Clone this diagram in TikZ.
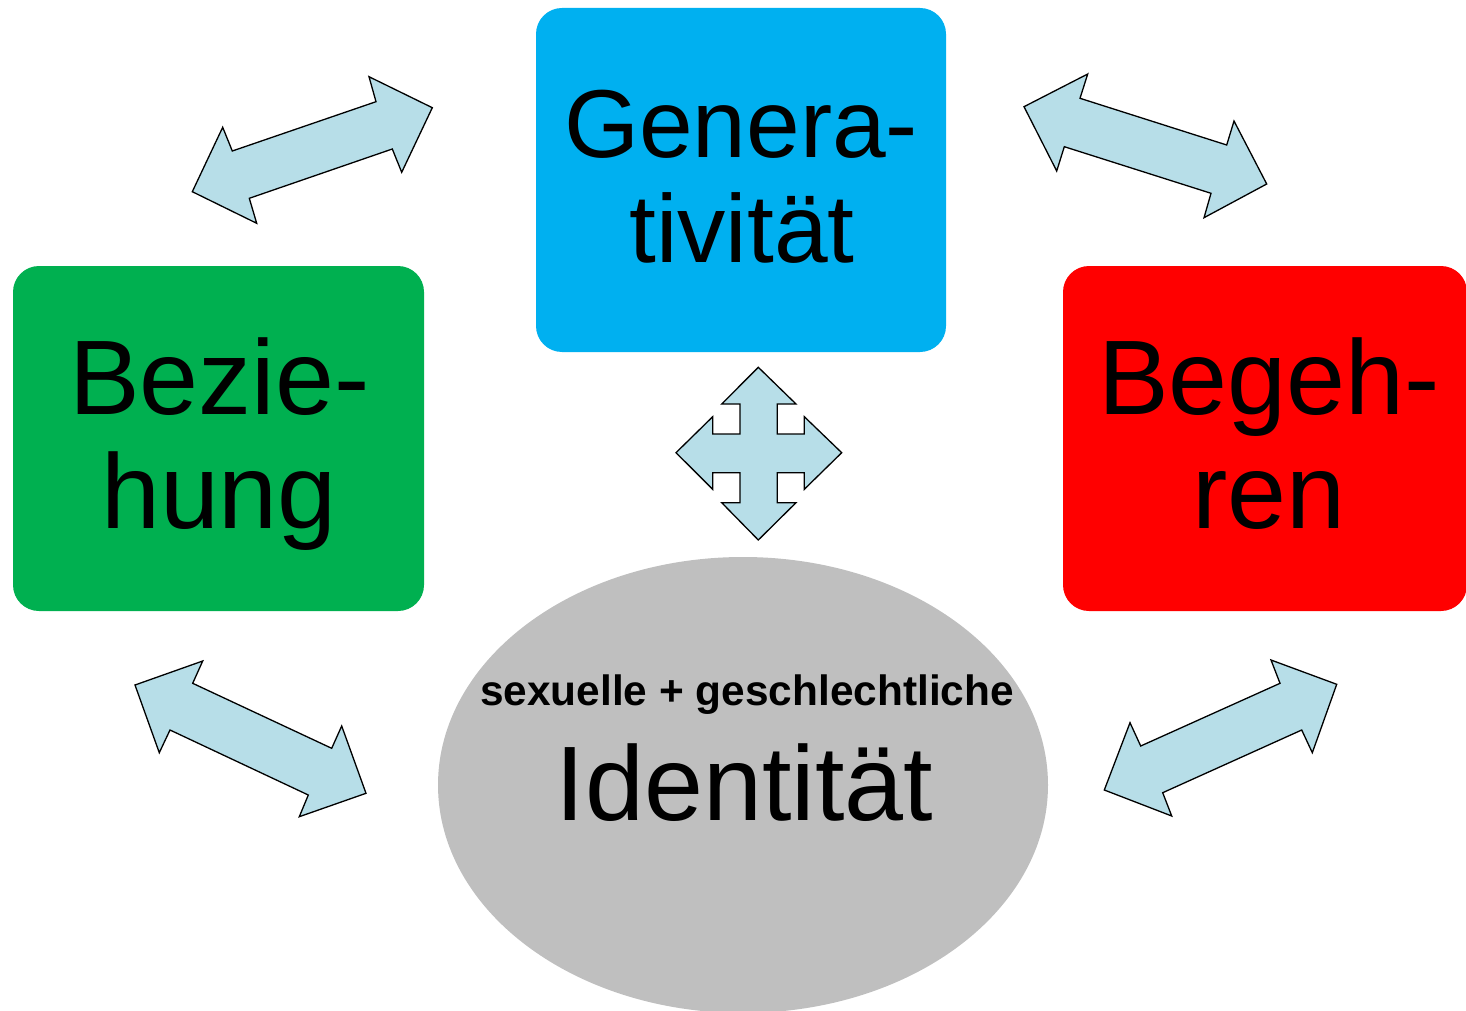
\documentclass[tikz,border=0pt]{standalone}
\usepackage{fontspec}
\setmainfont{Liberation Sans}
\definecolor{cblue}{HTML}{00B0F0}
\definecolor{cgreen}{HTML}{00B050}
\definecolor{cred}{HTML}{FF0000}
\definecolor{cgray}{HTML}{BFBFBF}
\definecolor{carrow}{HTML}{B7DEE8}
\definecolor{ctext}{HTML}{000000}
\tikzset{
  box/.style={fill=#1, draw=none, rounded corners=26pt},
  blockarrow/.style={fill=carrow, draw=black, line width=1.3pt, line join=miter},
  bigtext/.style={anchor=base, inner sep=0pt, text=ctext, font=\fontsize{106}{112}\selectfont},
  midtext/.style={anchor=base, inner sep=0pt, text=ctext, font=\fontsize{96.5}{104}\selectfont},
  smalltext/.style={anchor=base, inner sep=0pt, text=ctext, font=\bfseries\fontsize{42.4}{48}\selectfont}
}
\begin{document}
\begin{tikzpicture}[x=1pt,y=-1pt]
\useasboundingbox (0,0) rectangle (1466,1011);
\clip (0,0) rectangle (1466,1011);
% boxes
\path[box=cblue] (536,8) rectangle (946,352);
\path[box=cgreen] (13,266) rectangle (424,611);
\path[box=cred] (1063,266) rectangle (1467,611);
\path[fill=cgray] (743,785) ellipse [x radius=305, y radius=228];
% texts
\node[midtext] (gen1) at (741,158) {Genera-};
\node[midtext] (gen2) at (742,262) {tivität};
\node[bigtext] (bez1) at (219.5,414) {Bezie-};
\node[bigtext] (bez2) at (219,528) {hung};
\node[bigtext] (beg1) at (1269,414) {Begeh-};
\node[bigtext] (beg2) at (1269,528) {ren};
\node[smalltext] (sex) at (747,705) {sexuelle + geschlechtliche};
\node[bigtext] (ident) at (744.5,820) {Identität};
% arrows
\draw[blockarrow] (192.3,191.7) -- (222.7,127.3) -- (232.3,151) -- (376,101.7) -- (369,76.7) -- (432.3,107.7) -- (401.7,172.3) -- (392.3,149) -- (249.3,198.3) -- (256.7,223.3) -- cycle;
\draw[blockarrow] (1024,106.7) -- (1087.7,74) -- (1080,98.3) -- (1226.7,145) -- (1234,121) -- (1266.7,184) -- (1204,217.7) -- (1211,193.3) -- (1064.3,146.7) -- (1056.7,171) -- cycle;
\draw[blockarrow] (135,685) -- (202.7,661) -- (192.7,683.3) -- (331.7,748.3) -- (341.7,726) -- (366,793.3) -- (299.3,816.7) -- (308.3,795) -- (170,730) -- (159.3,752.7) -- cycle;
\draw[blockarrow] (1104.3,790) -- (1130,722.7) -- (1140.7,746) -- (1280,683.3) -- (1271,660) -- (1336.7,684.3) -- (1312.3,752.7) -- (1301.7,730) -- (1162.7,792.7) -- (1171.7,816) -- cycle;
% quad arrow
\draw[blockarrow] (758.3,367.3) -- (796,404) -- (777.3,404) -- (777.3,434) -- (804.3,434) -- (804.3,416.7) -- (841.7,452.7) -- (804.3,489.3) -- (804.3,472.7) -- (777.3,472.7) -- (777.3,502.7) -- (796,502.7) -- (758.3,540) -- (721.7,502.7) -- (740,502.7) -- (740,472.7) -- (712.7,472.7) -- (712.7,489.3) -- (676,452.7) -- (712.7,416.7) -- (712.7,434) -- (740,434) -- (740,404) -- (721.7,404) -- cycle;
\end{tikzpicture}
\end{document}
